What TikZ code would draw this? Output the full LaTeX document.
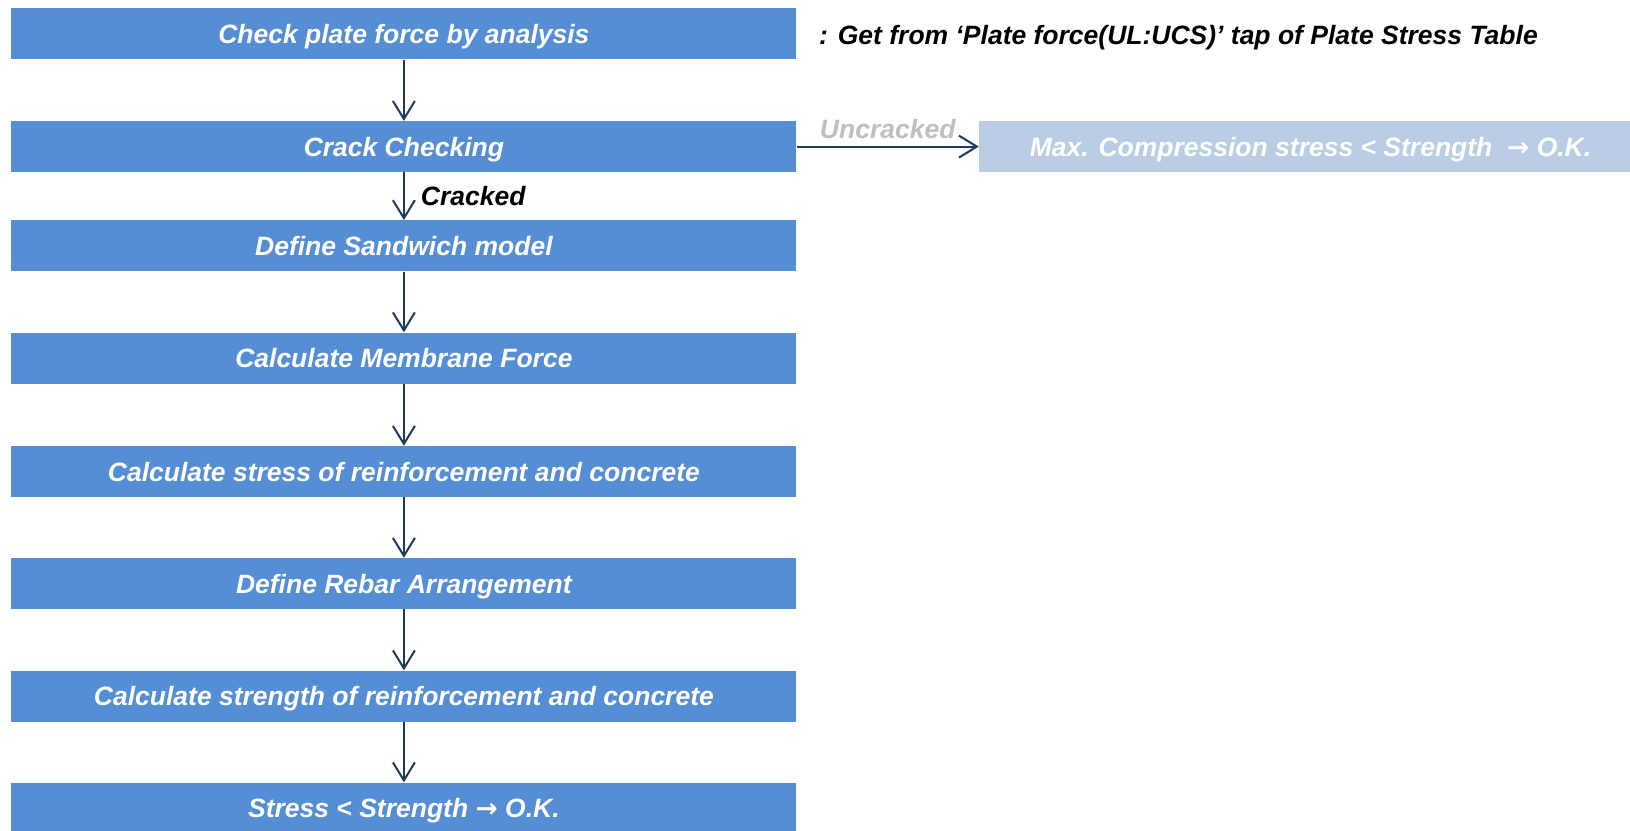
\documentclass[tikz,border=0pt]{standalone}
\usepackage{fontspec}
\setmainfont{Liberation Sans}
\newfontfamily\arrfont{DejaVu Sans}
\usetikzlibrary{arrows.meta}
\definecolor{boxblue}{HTML}{558ED5}
\definecolor{lightblue}{HTML}{B9CDE5}
\definecolor{navy}{HTML}{1F3864}
\definecolor{greytxt}{HTML}{BFBFBF}
\newcommand{\rarr}{{\arrfont\bfseries\itshape →}}
\tikzset{
  bigfont/.style={font=\fontsize{26.5}{30}\selectfont\bfseries\itshape},
  stepbox/.style={rectangle, fill=boxblue, text=white, minimum width=785pt, minimum height=51pt, inner sep=0pt, text height=19pt, text depth=0pt, bigfont},
  okbox/.style={rectangle, fill=lightblue, text=white, minimum width=651pt, minimum height=51pt, inner sep=0pt, text height=19pt, text depth=0pt, bigfont},
  flow/.style={draw=navy, line width=2pt, -{Straight Barb[length=18pt,width=22pt,line width=2pt]}},
  lbl/.style={inner sep=0pt, bigfont},
}
\begin{document}
\begin{tikzpicture}[x=1pt,y=-1pt]
\clip (0,0) rectangle (1630,830);
\node[stepbox] (b1) at (403.9,33.8) {Check plate force by analysis};
\node[stepbox] (b2) at (403.9,146.6) {Crack Checking};
\node[stepbox] (b3) at (403.9,245.8) {Define Sandwich model};
\node[stepbox] (b4) at (403.9,358) {Calculate Membrane Force};
\node[stepbox] (b5) at (403.9,471.5) {Calculate stress of reinforcement and concrete};
\node[stepbox] (b6) at (403.9,583.5) {Define Rebar Arrangement};
\node[stepbox] (b7) at (403.9,696) {Calculate strength of reinforcement and concrete};
\node[stepbox] (b8) at (403.9,808) {Stress < Strength \rarr\ O.K.};
\node[okbox] (ok) at (1304.5,146.6) {\hspace*{12pt}Max. Compression stress < Strength \ \rarr\ O.K.};
\node[lbl, anchor=west, text height=19pt, text depth=0pt] (note) at (819,35) {: Get from ‘Plate force(UL:UCS)’ tap of Plate Stress Table};
\draw[flow] (b1) -- (b2);
\draw[flow] (b2) -- node[lbl, anchor=west, xshift=16pt] (cr) {Cracked} (b3);
\draw[flow] (b3) -- (b4);
\draw[flow] (b4) -- (b5);
\draw[flow] (b5) -- (b6);
\draw[flow] (b6) -- (b7);
\draw[flow] (b7) -- (b8);
\draw[flow] (b2) -- node[lbl, text=greytxt, above, yshift=7pt] (un) {Uncracked} (ok);
\end{tikzpicture}
\end{document}
